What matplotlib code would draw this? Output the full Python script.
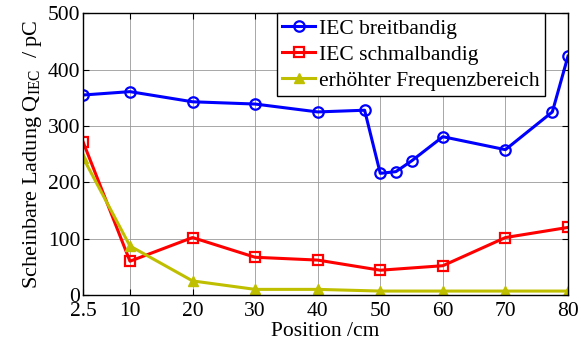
import numpy as np
import matplotlib
matplotlib.use('Agg')
import matplotlib.pyplot as plt

plt.rcParams['font.family'] = ['Liberation Serif', 'DejaVu Serif']
plt.rcParams['mathtext.fontset'] = 'custom'
plt.rcParams['mathtext.rm'] = 'Liberation Serif'

# Daten
pos_breit = [2.5, 10, 20, 30, 40, 47.5, 50, 52.5, 55, 60, 70, 77.5, 80]
q_breit = [355, 361, 343, 339, 325, 328, 216, 219, 238, 281, 258, 325, 424]

pos_schmal = [2.5, 10, 20, 30, 40, 50, 60, 70, 80]
q_schmal = [272, 60, 102, 67, 62, 44, 52, 102, 120]

pos_erh = [2.5, 10, 20, 30, 40, 50, 60, 70, 80]
q_erh = [244, 87, 25, 10, 10, 7, 7, 7, 7]

xticks = [2.5, 10, 20, 30, 40, 50, 60, 70, 80]
xticklabels = ['2.5', '10', '20', '30', '40', '50', '60', '70', '80']
yticks = [0, 100, 200, 300, 400, 500]

fig = plt.figure(figsize=(5.81, 3.42), dpi=100)
ax = fig.add_axes([0.1429, 0.1374, 0.8347, 0.8236])

ax.plot(pos_breit, q_breit, '-o', color='blue', lw=2.2, ms=7.5, mew=1.6,
        mfc='none', label='IEC breitbandig')
ax.plot(pos_schmal, q_schmal, '-s', color='red', lw=2.2, ms=7, mew=1.6,
        mfc='none', label='IEC schmalbandig')
ax.plot(pos_erh, q_erh, '-^', color=(0.75, 0.75, 0), lw=2.2, ms=7.5,
        label='erhöhter Frequenzbereich')

ax.set_xlim(2.5, 80)
ax.set_ylim(0, 500)
ax.set_xticks(xticks)
ax.set_xticklabels(xticklabels)
ax.set_yticks(yticks)
ax.tick_params(direction='in', top=True, right=True, labelsize=15.5, length=4)
ax.tick_params(axis='x', pad=5)
ax.tick_params(axis='y', pad=2)
ax.grid(True, color='#999999', lw=0.6, ls='-')
for s in ax.spines.values():
    s.set_linewidth(1.0)

ax.set_xlabel('Position /cm', fontsize=15.5, labelpad=1)
ax.set_ylabel(r'Scheinbare Ladung Q$_{\mathrm{IEC}}$  / pC', fontsize=16, labelpad=3)

leg = ax.legend(loc='upper right', bbox_to_anchor=(0.9526, 1.0), borderaxespad=0,
                fontsize=15.5, fancybox=False, framealpha=1, edgecolor='black',
                handlelength=1.5, handletextpad=0.2, labelspacing=0.28,
                borderpad=0.25)
leg.get_frame().set_linewidth(1.0)

fig.savefig('out.png', dpi=100)
